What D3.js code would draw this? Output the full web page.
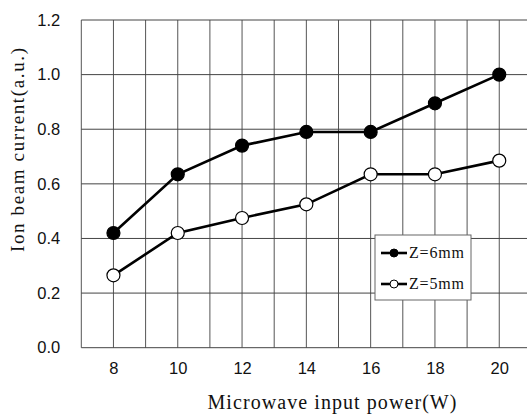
<!DOCTYPE html>
<html>
<head>
<meta charset="utf-8">
<script src="https://cdn.jsdelivr.net/npm/d3@7"></script>
<style>
  body { margin: 0; background: #fff; }
  svg { display: block; }
</style>
</head>
<body>
<div id="chart"></div>
<script>
  // data
  var power = [8, 10, 12, 14, 16, 18, 20];
  var z6 = [0.42, 0.635, 0.74, 0.79, 0.79, 0.895, 1.0];
  var z5 = [0.265, 0.42, 0.475, 0.525, 0.635, 0.635, 0.685];
  var yTicks = [0, 0.2, 0.4, 0.6, 0.8, 1.0, 1.2];
  var xTicks = [8, 10, 12, 14, 16, 18, 20];
  var seriesNames = ["Z=6mm", "Z=5mm"];

  var width = 527, height = 415;

  var x = d3.scaleLinear().domain([7, 21]).range([81.3, 531.4]);
  var y = d3.scaleLinear().domain([0, 1.2]).range([347.7, 20]);

  var svg = d3.select("#chart").append("svg")
    .attr("width", width)
    .attr("height", height);

  // grid
  var grid = svg.append("g");
  grid.selectAll(".vg")
    .data(d3.range(7, 22))
    .enter().append("line")
    .attr("x1", function(d) { return x(d); })
    .attr("x2", function(d) { return x(d); })
    .attr("y1", y(1.2))
    .attr("y2", y(0))
    .attr("stroke", "#555")
    .attr("stroke-width", 1);
  grid.selectAll(".hg")
    .data(yTicks)
    .enter().append("line")
    .attr("x1", x(7))
    .attr("x2", width)
    .attr("y1", function(d) { return y(d); })
    .attr("y2", function(d) { return y(d); })
    .attr("stroke", "#444")
    .attr("stroke-width", 1);

  // axes (labels only)
  var yAxis = svg.append("g")
    .attr("transform", "translate(" + x(7) + ",0)")
    .call(d3.axisLeft(y).tickValues(yTicks).tickFormat(d3.format(".1f")).tickSize(0).tickPadding(21));
  yAxis.select(".domain").remove();
  yAxis.attr("font-family", "'Liberation Sans', Arial, sans-serif").attr("font-size", 16.5);
  yAxis.selectAll("text").attr("fill", "#111");

  var xAxis = svg.append("g")
    .attr("transform", "translate(0," + y(0) + ")")
    .call(d3.axisBottom(x).tickValues(xTicks).tickFormat(d3.format("d")).tickSize(0).tickPadding(15));
  xAxis.select(".domain").remove();
  xAxis.attr("font-family", "'Liberation Sans', Arial, sans-serif").attr("font-size", 16.5);
  xAxis.selectAll("text").attr("fill", "#111");

  // titles
  svg.append("text")
    .attr("x", 332)
    .attr("y", 409)
    .attr("text-anchor", "middle")
    .attr("textLength", 249)
    .attr("lengthAdjust", "spacing")
    .style("font-family", "'Liberation Serif', 'DejaVu Serif', serif")
    .style("font-size", "20px")
    .attr("fill", "#111")
    .text("Microwave input power(W)");

  svg.append("text")
    .attr("transform", "translate(24,150) rotate(-90)")
    .attr("text-anchor", "middle")
    .attr("textLength", 204)
    .attr("lengthAdjust", "spacing")
    .style("font-family", "'Liberation Serif', 'DejaVu Serif', serif")
    .style("font-size", "19px")
    .attr("fill", "#111")
    .text("Ion beam current(a.u.)");

  // series
  var line = d3.line()
    .x(function(d) { return x(d[0]); })
    .y(function(d) { return y(d[1]); });

  var series = [
    { name: seriesNames[0], values: d3.zip(power, z6), fill: "#000" },
    { name: seriesNames[1], values: d3.zip(power, z5), fill: "#fff" }
  ];

  series.forEach(function(s) {
    svg.append("path")
      .attr("d", line(s.values))
      .attr("fill", "none")
      .attr("stroke", "#000")
      .attr("stroke-width", 2.6);
    svg.selectAll(null)
      .data(s.values)
      .enter().append("circle")
      .attr("cx", function(d) { return x(d[0]); })
      .attr("cy", function(d) { return y(d[1]); })
      .attr("r", 6.5)
      .attr("fill", s.fill)
      .attr("stroke", "#000")
      .attr("stroke-width", 1.2);
  });

  // legend
  var lg = svg.append("g").attr("transform", "translate(375,235)");
  lg.append("rect")
    .attr("width", 96)
    .attr("height", 65)
    .attr("fill", "#fff")
    .attr("stroke", "#666")
    .attr("stroke-width", 1);

  series.forEach(function(s, i) {
    var ly = 18 + i * 31;
    lg.append("line")
      .attr("x1", 6).attr("x2", 32)
      .attr("y1", ly).attr("y2", ly)
      .attr("stroke", "#000")
      .attr("stroke-width", 2.6);
    lg.append("circle")
      .attr("cx", 19).attr("cy", ly)
      .attr("r", 4)
      .attr("fill", s.fill)
      .attr("stroke", "#000")
      .attr("stroke-width", 1);
    lg.append("text")
      .attr("x", 34)
      .attr("y", ly + 5)
      .attr("textLength", 55)
      .attr("lengthAdjust", "spacing")
      .style("font-family", "'Liberation Serif', 'DejaVu Serif', serif")
      .style("font-size", "16px")
      .attr("fill", "#111")
      .text(s.name);
  });
</script>
</body>
</html>
